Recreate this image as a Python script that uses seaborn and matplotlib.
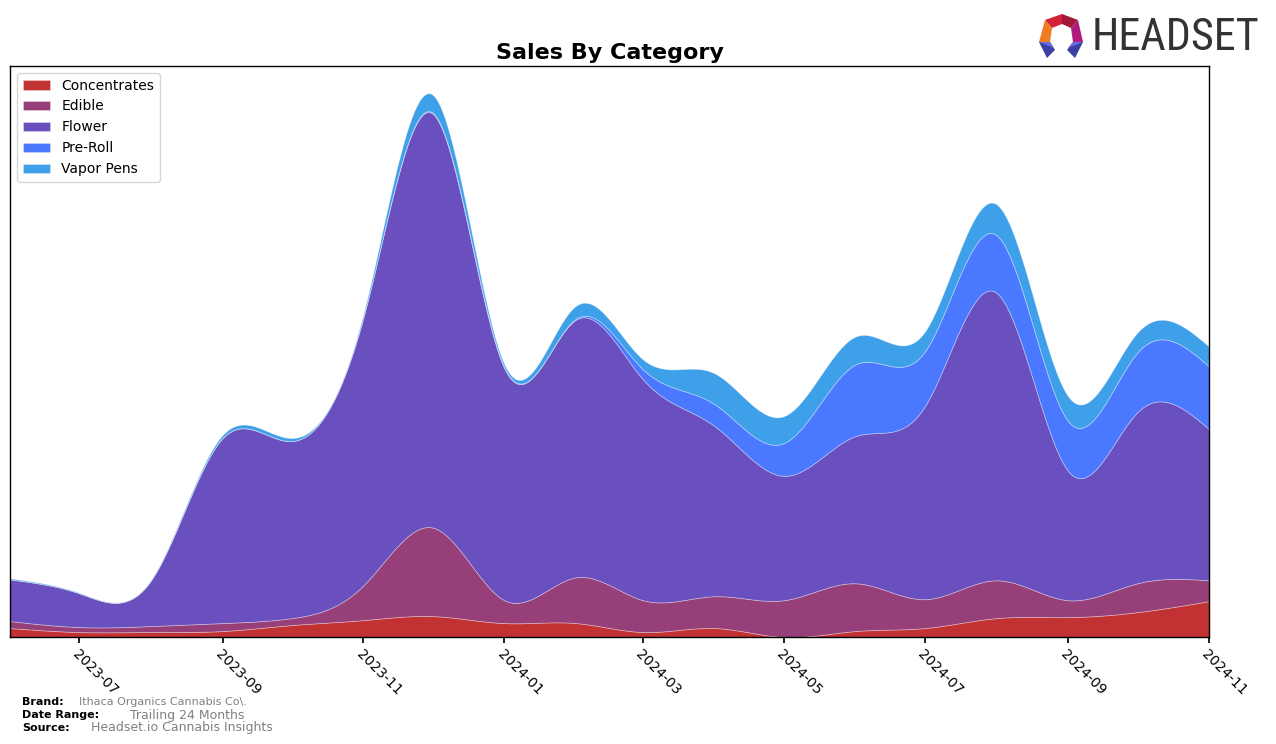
import numpy as np
import pandas as pd
import matplotlib
matplotlib.use("Agg")
import matplotlib.pyplot as plt
import matplotlib.dates as mdates
from matplotlib.patches import Polygon
from matplotlib import font_manager
import seaborn as sns

# ---- data (monthly, relative units) ----
months = pd.date_range("2023-06-01", "2024-11-01", freq="MS")
categories = ["Concentrates", "Edible", "Flower", "Pre-Roll", "Vapor Pens"]
concentrates = [9, 5, 5, 6, 12, 17, 21, 14, 14, 5, 9, 0, 6, 9, 19, 20, 25, 36]
edible = [7, 5, 6, 8, 7, 35, 89, 23, 46, 32, 32, 37, 48, 29, 38, 17, 29, 21]
flower = [42, 34, 46, 186, 178, 270, 416, 233, 259, 222, 171, 125, 148, 194, 289, 130, 172, 152]
preroll = [0, 0, 0, 0, 0, 0, 1, 1, 1, 10, 22, 33, 72, 55, 58, 50, 60, 63]
vapor = [1, 0.5, 0.5, 3, 3, 3, 18, 3, 13, 10, 31, 27, 28, 20, 31, 25, 20, 20]
colors = ["#c23232", "#963f78", "#6a4fbe", "#4a78ff", "#3fa0ea"]

sns.set_theme(style="ticks")
plt.rcParams["font.family"] = ["DejaVu Sans"]
plt.rcParams["text.color"] = "black"
plt.rcParams["axes.labelcolor"] = "black"
plt.rcParams["xtick.color"] = "black"
plt.rcParams["ytick.color"] = "black"


def natural_spline(x, y, xs):
    x = np.asarray(x, float)
    y = np.asarray(y, float)
    n = len(x)
    h = np.diff(x)
    A = np.zeros((n, n))
    b = np.zeros(n)
    A[0, 0] = 1
    A[-1, -1] = 1
    for i in range(1, n - 1):
        A[i, i - 1] = h[i - 1]
        A[i, i] = 2 * (h[i - 1] + h[i])
        A[i, i + 1] = h[i]
        b[i] = 6 * ((y[i + 1] - y[i]) / h[i] - (y[i] - y[i - 1]) / h[i - 1])
    M = np.linalg.solve(A, b)
    idx = np.clip(np.searchsorted(x, xs) - 1, 0, n - 2)
    x0, x1 = x[idx], x[idx + 1]
    hh = x1 - x0
    return (M[idx] * (x1 - xs) ** 3 / (6 * hh) + M[idx + 1] * (xs - x0) ** 3 / (6 * hh)
            + (y[idx] / hh - M[idx] * hh / 6) * (x1 - xs)
            + (y[idx + 1] / hh - M[idx + 1] * hh / 6) * (xs - x0))


xnum = mdates.date2num(months)
xs = np.linspace(xnum[0], xnum[-1], 600)
series = [concentrates, edible, flower, preroll, vapor]
smooth = [natural_spline(xnum, s, xs) for s in series]

fig = plt.figure(figsize=(12.76, 7.44), dpi=100)
ax = fig.add_axes([10 / 1276, 1 - 637 / 744, (1209 - 10) / 1276, (637 - 66) / 744])

ax.stackplot(mdates.num2date(xs), *smooth, labels=categories, colors=colors,
             edgecolor=(1, 1, 1, 0.35), linewidth=0.6)

total = np.sum(smooth, axis=0)
ax.set_xlim(mdates.num2date(xnum[0]), mdates.num2date(xnum[-1]))
ax.set_ylim(0, total.max() * 1.05)
ax.set_yticks([])
ax.xaxis.set_major_locator(mdates.MonthLocator(bymonth=[1, 3, 5, 7, 9, 11]))
ax.xaxis.set_major_formatter(mdates.DateFormatter("%Y-%m"))
for lab in ax.get_xticklabels():
    lab.set_rotation(-45)
    lab.set_ha("left")
    lab.set_rotation_mode("anchor")
ax.tick_params(axis="x", labelsize=10, length=4, color="black", labelcolor="black")
for sp in ax.spines.values():
    sp.set_color("black")
    sp.set_linewidth(1)
ax.set_facecolor("white")
ax.set_xlabel("")
ax.set_ylabel("")
ax.set_title("Sales By Category", fontsize=16, fontweight="bold", pad=5, color="black")

leg = ax.legend(loc="upper left", fontsize=10, frameon=True, fancybox=True,
                borderpad=0.4, labelspacing=0.5, handlelength=2.0)
leg.get_frame().set_edgecolor("#cccccc")
for t in leg.get_texts():
    t.set_color("black")

# footer
fig.text(22 / 1276, 1 - 702 / 744, "Brand:", fontsize=8, fontweight="bold", va="center")
fig.text(79 / 1276, 1 - 702 / 744, "Ithaca Organics Cannabis Co\\.", fontsize=8, color="grey", va="center")
fig.text(22 / 1276, 1 - 715 / 744, "Date Range:", fontsize=8, fontweight="bold", va="center")
fig.text(130 / 1276, 1 - 715 / 744, "Trailing 24 Months", fontsize=9, color="grey", va="center")
fig.text(22 / 1276, 1 - 728 / 744, "Source:", fontsize=8, fontweight="bold", va="center")
fig.text(91 / 1276, 1 - 728 / 744, "Headset.io Cannabis Insights", fontsize=9, color="grey", va="center")

# logo text: prefer a condensed face if one exists, then fit to the logo width
names = {f.name for f in font_manager.fontManager.ttflist}
logo_family = "DejaVu Sans"
logo_stretch = "normal"
for cand in ["Liberation Sans Narrow", "Roboto Condensed", "Open Sans Condensed"]:
    if cand in names:
        logo_family = cand
        break
else:
    if any(f.name == "DejaVu Sans" and f.stretch == "condensed" for f in font_manager.fontManager.ttflist):
        logo_stretch = "condensed"

logo = fig.text(1092 / 1276, 1 - 38 / 744, "HEADSET", fontsize=34, color="#333333",
                va="center", ha="left", family=logo_family, fontstretch=logo_stretch)
fig.canvas.draw()
w = logo.get_window_extent(fig.canvas.get_renderer()).width
logo.set_fontsize(34 * 168 / w)


def fp(pts):
    return [(px / 1276, 1 - py / 744) for px, py in pts]


logo_parts = [
    ([(1045, 20), (1062, 14), (1062, 24), (1052, 28)], "#d4213a"),
    ([(1062, 14), (1078, 20), (1071, 28), (1062, 24)], "#a3173a"),
    ([(1045, 20), (1052, 28), (1050, 42), (1039, 42)], "#f07c22"),
    ([(1078, 20), (1083, 42), (1073, 42), (1071, 28)], "#b01a7a"),
    ([(1039, 42), (1050, 42), (1055, 50), (1047, 58)], "#3b3fa3"),
    ([(1073, 42), (1083, 42), (1075, 58), (1067, 50)], "#3b3fa3"),
    ([(1039, 42), (1050, 42), (1054, 48)], "#6a6fe0"),
    ([(1073, 42), (1083, 42), (1068, 48)], "#6a6fe0"),
]
for pts, c in logo_parts:
    fig.patches.append(Polygon(fp(pts), closed=True, transform=fig.transFigure,
                               facecolor=c, edgecolor="none"))

fig.savefig("out.png", dpi=100, facecolor="white")
